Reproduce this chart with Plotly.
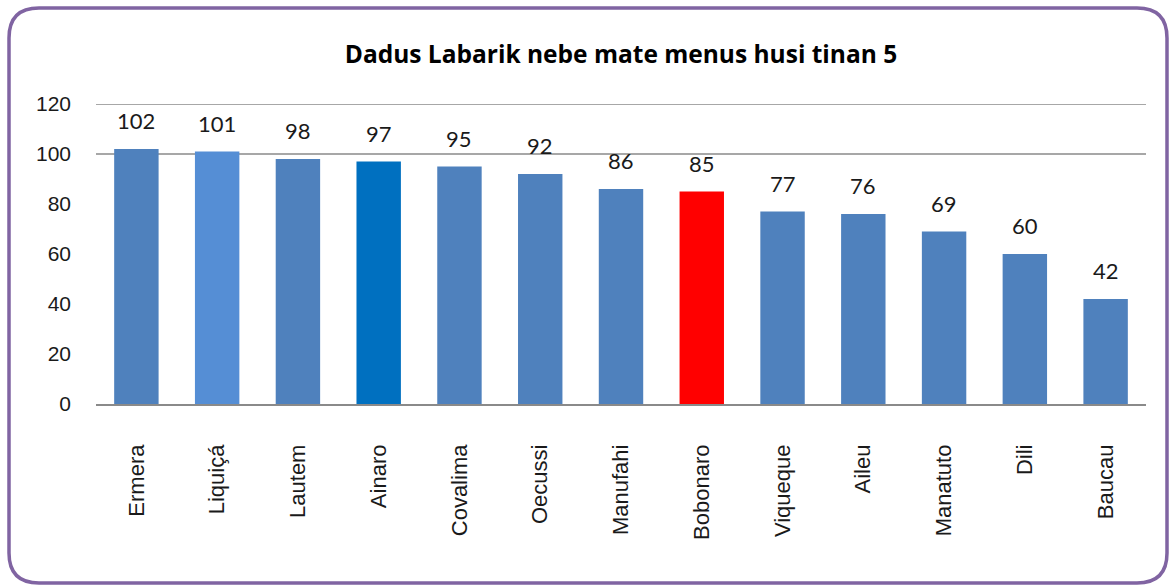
import plotly.graph_objects as go

categories = ["Ermera", "Liquiçá", "Lautem", "Ainaro", "Covalima", "Oecussi", "Manufahi",
              "Bobonaro", "Viqueque", "Aileu", "Manatuto", "Dili", "Baucau"]
values = [102, 101, 98, 97, 95, 92, 86, 85, 77, 76, 69, 60, 42]
bar_colors = ["#4F81BD", "#558ED5", "#4F81BD", "#0070C0", "#4F81BD", "#4F81BD", "#4F81BD",
              "#FF0000", "#4F81BD", "#4F81BD", "#4F81BD", "#4F81BD", "#4F81BD"]
title_text = "Dadus Labarik nebe mate menus husi tinan 5"
y_ticks = [0, 20, 40, 60, 80, 100, 120]
grid_values = [100, 120]

W, H = 1171, 588
ML, MR, MT, MB = 96, 25, 104, 184
PW, PH = W - ML - MR, H - MT - MB

fig = go.Figure()
fig.add_trace(go.Bar(x=categories, y=values, marker=dict(color=bar_colors, line=dict(width=0)),
                     hoverinfo="x+y"))

for c, v in zip(categories, values):
    fig.add_annotation(x=c, y=v, text=str(v), showarrow=False, yanchor="bottom", yshift=13,
                       font=dict(family="Lato, Open Sans, sans-serif", size=22, color="#1a1a1a"))

for g in grid_values:
    fig.add_hline(y=g, line=dict(color="#8a8a8a", width=1.5), layer="below")


def px(x):
    return (x - ML) / PW


def py(y):
    return (H - MB - y) / PH


x0, x1, y0, y1, r = 9, 1167, 8, 583, 30
path = (f"M {px(x0 + r)},{py(y0)} L {px(x1 - r)},{py(y0)} Q {px(x1)},{py(y0)} {px(x1)},{py(y0 + r)} "
        f"L {px(x1)},{py(y1 - r)} Q {px(x1)},{py(y1)} {px(x1 - r)},{py(y1)} "
        f"L {px(x0 + r)},{py(y1)} Q {px(x0)},{py(y1)} {px(x0)},{py(y1 - r)} "
        f"L {px(x0)},{py(y0 + r)} Q {px(x0)},{py(y0)} {px(x0 + r)},{py(y0)} Z")
fig.add_shape(type="path", path=path, xref="paper", yref="paper",
              line=dict(color="#8064A2", width=3.5), layer="above")

fig.update_layout(
    width=W, height=H,
    margin=dict(l=ML, r=MR, t=MT, b=MB),
    paper_bgcolor="white", plot_bgcolor="white",
    showlegend=False,
    bargap=0.45,
    title=dict(text=f"<b>{title_text}</b>", x=0.5, xref="paper", y=1 - 54 / H, yanchor="middle",
               font=dict(family="Open Sans, Lato, sans-serif", size=24.5, color="black")),
    xaxis=dict(showgrid=False, tickangle=-90, showline=True, linecolor="#8a8a8a", linewidth=1.5,
               ticks="", ticklabelstandoff=30,
               tickfont=dict(family="Liberation Sans, Arial, sans-serif", size=22, color="#1a1a1a")),
    yaxis=dict(range=[0, 120], tickvals=y_ticks, showgrid=False, zeroline=False, showline=False,
               ticks="", ticklabelstandoff=24,
               tickfont=dict(family="Liberation Sans, Arial, sans-serif", size=21, color="#1a1a1a")),
)

fig.write_html("out.html", config={"displayModeBar": False},
               post_script="document.body.style.margin='0';document.body.style.overflow='hidden';")
